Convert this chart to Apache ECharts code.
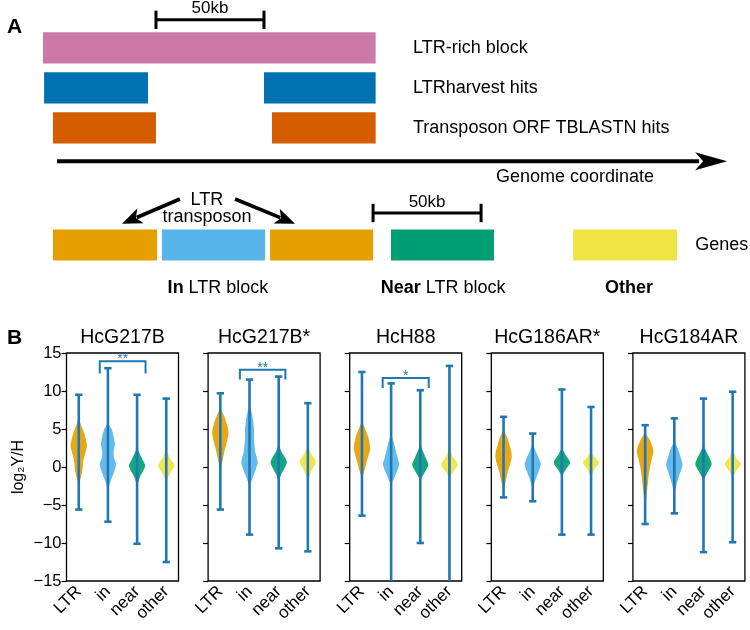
<!DOCTYPE html>
<html><head><meta charset="utf-8">
<script src="https://cdn.jsdelivr.net/npm/echarts@6/dist/echarts.min.js"></script>
<style>html,body{margin:0;padding:0;background:#fff}#c{width:750px;height:630px}</style>
</head><body><div id="c"></div>
<script>
// ================= Panel A data (x in kb, y in diagram rows) =================
const trackNames = ['LTR-rich block', 'LTRharvest hits', 'Transposon ORF TBLASTN hits'];
const trackRows = [1, 2, 3];
const trackColors = ['#CC79A7', '#0072B2', '#D55E00'];
const ltrBlock = [[0, 154]];
const ltrHarvestHits = [[0.5, 48.6], [102.3, 154]];
const tblastnHits = [[4.6, 52.3], [106, 154]];
const geneRow = 5.93;
const geneSegments = [[4.6, 52.8], [55.1, 102.8], [105.1, 152.8], [161.1, 208.8], [245.4, 293.5]];
const geneSegmentClass = [0, 1, 0, 2, 3];
const scaleBars = [[52.3, 102.3, 0.3], [152.8, 202.8, 5.13]];
const scaleBarLabel = '50kb';
const genomeArrow = [6.5, 3.835, 316.7, 3.835];
const transposonArrows = [[63.4, 4.78, 36.6, 5.4], [88.9, 4.78, 116.7, 5.4]];
const trackLabelX = 171.3;
const genomeLabel = ['Genome coordinate', 209.7, 4.23];
const genesLabel = ['Genes', 301.9, 5.93];
const transposonLabel = [['LTR', 75.9, 4.8], ['transposon', 75.9, 5.22]];
const regionLabels = ['{b|In}{n| LTR block}', '{b|Near}{n| LTR block}', '{b|Other}'];
const regionX = [81, 185.2, 271.3];
const regionRow = 7.0;

// ================= Panel B data =================
const panelNames = ['HcG217B', 'HcG217B*', 'HcH88', 'HcG186AR*', 'HcG184AR'];
const groups = ['LTR', 'in', 'near', 'other'];
const groupColors = ['#E69F00', '#56B4E9', '#009E73', '#F0E442'];
const yTicks = [-15, -10, -5, 0, 5, 10, 15];
// whisker extrema [min, max] per group
const ext_HcG217B   = [[-5.6, 9.5], [-7.2, 13.0], [-10.1, 9.5], [-12.5, 9.0]];
const ext_HcG217Bs  = [[-5.6, 9.7], [-8.9, 11.5], [-10.7, 11.9], [-11.1, 8.4]];
const ext_HcH88     = [[-6.4, 12.5], [-17, 11.0], [-10.0, 10.1], [-17, 13.3]];
const ext_HcG186ARs = [[-4.0, 6.6], [-4.5, 4.4], [-8.9, 10.2], [-8.9, 7.9]];
const ext_HcG184AR  = [[-7.5, 5.5], [-6.1, 6.4], [-11.2, 9.0], [-9.9, 9.9]];
// violin profiles: [value, relative density]
const vio_HcG217B = [
  [[6.4,0],[5.5,0.3],[4.5,0.65],[3.5,0.9],[2.8,1],[2,0.85],[1,0.6],[0,0.5],[-1,0.35],[-2.3,0]],
  [[5.8,0],[5,0.45],[4,0.7],[3,0.85],[2,0.7],[1.2,0.75],[0.4,1],[-0.5,0.8],[-1.5,0.45],[-2.3,0.2],[-3.3,0]],
  [[2.6,0],[1.8,0.3],[1,0.65],[0.2,1],[-0.5,0.75],[-1.3,0.35],[-2.4,0]],
  [[2.2,0],[1.2,0.45],[0.2,1],[-0.6,0.6],[-1.9,0]]
];
const vio_HcG217Bs = [
  [[7.8,0],[7,0.35],[6,0.7],[5,0.95],[4.4,1],[3.5,0.85],[2.5,0.6],[1.5,0.4],[0.5,0.2],[-0.6,0]],
  [[8.2,0],[7,0.3],[6,0.45],[5,0.55],[4,0.55],[3,0.6],[2,0.7],[1,0.95],[0.5,1],[-0.5,0.7],[-1.5,0.35],[-2.5,0]],
  [[3,0],[2,0.35],[1.2,0.8],[0.6,1],[-0.2,0.7],[-1,0.3],[-2,0]],
  [[2.8,0],[1.8,0.4],[0.7,1],[-0.3,0.55],[-1.7,0]]
];
const vio_HcH88 = [
  [[6,0],[5,0.4],[4,0.75],[3,0.95],[2.3,1],[1.5,0.8],[0.5,0.55],[-0.5,0.3],[-1.5,0]],
  [[4.3,0],[3,0.4],[2,0.6],[1,0.85],[0.4,1],[-0.5,0.75],[-1.5,0.35],[-2.3,0]],
  [[3,0],[2,0.35],[1,0.75],[0.3,1],[-0.6,0.6],[-1.7,0]],
  [[2.5,0],[1.3,0.45],[0.3,1],[-0.5,0.55],[-1.5,0]]
];
const vio_HcG186ARs = [
  [[4.8,0],[4,0.4],[3,0.7],[2,0.95],[1.3,1],[0.5,0.85],[-0.5,0.55],[-1.5,0.35],[-2.5,0.15],[-3.5,0]],
  [[3,0],[2,0.4],[1,0.8],[0.4,1],[-0.5,0.75],[-1.5,0.4],[-2.5,0.1],[-3,0]],
  [[2.5,0],[1.5,0.5],[0.6,1],[-0.3,0.5],[-1.2,0]],
  [[2.1,0],[1.3,0.45],[0.6,1],[-0.2,0.5],[-1.3,0]]
];
const vio_HcG184AR = [
  [[4.5,0],[3.5,0.6],[2.5,0.95],[1.8,1],[1,0.8],[0,0.6],[-1,0.45],[-2,0.35],[-3,0.25],[-4,0.15],[-5.2,0]],
  [[3.4,0],[2.5,0.4],[1.5,0.7],[0.3,1],[-0.8,0.7],[-2,0.35],[-3.5,0]],
  [[2.9,0],[1.8,0.45],[0.4,1],[-0.6,0.55],[-1.7,0]],
  [[2.2,0],[1.2,0.45],[0.4,1],[-0.4,0.5],[-1.3,0]]
];
// significance brackets [x1, x2, yTop, yBottom, text]
const sig_HcG217B = [1.72, 3.29, 13.9, 12.3, '**'];
const sig_HcG217Bs = [1.67, 3.23, 12.8, 11.5, '**'];
const sig_HcH88 = [1.71, 3.29, 11.7, 10.4, '*'];

const panelExt = [ext_HcG217B, ext_HcG217Bs, ext_HcH88, ext_HcG186ARs, ext_HcG184AR];
const panelVio = [vio_HcG217B, vio_HcG217Bs, vio_HcH88, vio_HcG186ARs, vio_HcG184AR];
const panelSig = [sig_HcG217B, sig_HcG217Bs, sig_HcH88, null, null];

// ================= Build chart =================
const FONT = '"Liberation Sans", Arial, Helvetica, sans-serif';
const LINE_BLUE = '#1f77b4';
const chart = echarts.init(document.getElementById('c'));

const grids = [{left: 43, top: 7.8, width: 707, height: 300, show: false}];
const xAxes = [{type: 'value', gridIndex: 0, min: 0, max: 327.3, show: false}];
const yAxes = [{type: 'value', gridIndex: 0, min: 0, max: 7.5, inverse: true, show: false}];
const series = [];
const titles = [
  {text: 'A', left: 7, top: 17, padding: 0, textStyle: {fontSize: 21, fontWeight: 'bold', color: '#000', fontFamily: FONT}},
  {text: 'B', left: 7, top: 328, padding: 0, textStyle: {fontSize: 21, fontWeight: 'bold', color: '#000', fontFamily: FONT}}
];

// --- Panel A rectangles
const rectData = [];
ltrBlock.forEach(s => rectData.push({value: [s[0], s[1], trackRows[0]], itemStyle: {color: trackColors[0]}}));
ltrHarvestHits.forEach(s => rectData.push({value: [s[0], s[1], trackRows[1]], itemStyle: {color: trackColors[1]}}));
tblastnHits.forEach(s => rectData.push({value: [s[0], s[1], trackRows[2]], itemStyle: {color: trackColors[2]}}));
geneSegments.forEach((s, i) => rectData.push({value: [s[0], s[1], geneRow], itemStyle: {color: groupColors[geneSegmentClass[i]]}}));
series.push({
  type: 'custom', xAxisIndex: 0, yAxisIndex: 0, silent: true, data: rectData,
  renderItem: (p, api) => {
    const a = api.coord([api.value(0), api.value(2) - 0.39]);
    const b = api.coord([api.value(1), api.value(2) + 0.39]);
    return {type: 'rect', shape: {x: a[0], y: Math.min(a[1], b[1]), width: b[0] - a[0], height: Math.abs(b[1] - a[1])},
      style: {fill: api.visual('color')}};
  }
});
// --- scale bars
series.push({
  type: 'custom', xAxisIndex: 0, yAxisIndex: 0, silent: true, data: scaleBars,
  renderItem: (p, api) => {
    const x0 = api.value(0), x1 = api.value(1), r = api.value(2);
    const a = api.coord([x0, r]), b = api.coord([x1, r]);
    const t0 = api.coord([x0, r - 0.23]), t1 = api.coord([x0, r + 0.23]);
    const st = {stroke: '#000', lineWidth: 3};
    return {type: 'group', children: [
      {type: 'line', shape: {x1: a[0], y1: a[1], x2: b[0], y2: b[1]}, style: st},
      {type: 'line', shape: {x1: a[0], y1: t0[1], x2: a[0], y2: t1[1]}, style: st},
      {type: 'line', shape: {x1: b[0], y1: t0[1], x2: b[0], y2: t1[1]}, style: st},
      {type: 'text', x: (a[0] + b[0]) / 2, y: a[1] - 11, style: {text: scaleBarLabel, fontSize: 17, fontFamily: FONT, fill: '#000', align: 'center', verticalAlign: 'middle'}}
    ]};
  }
});
// --- arrows
const arrowData = [genomeArrow.concat([32, 9, 4])].concat(transposonArrows.map(a => a.concat([20, 8, 3.6])));
series.push({
  type: 'custom', xAxisIndex: 0, yAxisIndex: 0, silent: true, data: arrowData,
  renderItem: (p, api) => {
    const s = api.coord([api.value(0), api.value(1)]);
    const e = api.coord([api.value(2), api.value(3)]);
    const hl = api.value(4), hw = api.value(5), lw = api.value(6);
    const dx = e[0] - s[0], dy = e[1] - s[1], L = Math.hypot(dx, dy);
    const ux = dx / L, uy = dy / L, nx = -uy, ny = ux;
    const bx = e[0] - ux * hl, by = e[1] - uy * hl;
    return {type: 'group', children: [
      {type: 'line', shape: {x1: s[0], y1: s[1], x2: bx + ux * 4, y2: by + uy * 4}, style: {stroke: '#000', lineWidth: lw}},
      {type: 'polygon', shape: {points: [[e[0], e[1]], [bx + nx * hw, by + ny * hw], [bx + ux * hl * 0.25, by + uy * hl * 0.25], [bx - nx * hw, by - ny * hw]]}, style: {fill: '#000'}}
    ]};
  }
});
// --- panel A labels
const labelData = [];
trackNames.forEach((t, i) => labelData.push([trackLabelX, trackRows[i], t, 'left']));
labelData.push([genomeLabel[1], genomeLabel[2], genomeLabel[0], 'left']);
labelData.push([genesLabel[1], genesLabel[2], genesLabel[0], 'left']);
transposonLabel.forEach(l => labelData.push([l[1], l[2], l[0], 'center']));
regionLabels.forEach((t, i) => labelData.push([regionX[i], regionRow, t, 'center']));
series.push({
  type: 'custom', xAxisIndex: 0, yAxisIndex: 0, silent: true, data: labelData,
  renderItem: (p, api) => {
    const item = labelData[p.dataIndex];
    const c = api.coord([item[0], item[1]]);
    return {type: 'text', x: c[0], y: c[1], style: {
      text: item[2], fontSize: 18, fontFamily: FONT, fill: '#000', align: item[3], verticalAlign: 'middle',
      rich: {b: {fontSize: 18, fontFamily: FONT, fontWeight: 'bold', fill: '#000'}, n: {fontSize: 18, fontFamily: FONT, fill: '#000'}}
    }};
  }
});

// --- Panel B
const minus = v => (v < 0 ? '\u2212' : '') + Math.abs(v);
panelNames.forEach((name, pi) => {
  const gi = pi + 1;
  const left = 66.5 + 141.6 * pi, width = 112;
  grids.push({left: left, top: 353, width: width, height: 228, show: true, borderColor: '#000', borderWidth: 1.3, backgroundColor: 'transparent'});
  xAxes.push({
    type: 'value', gridIndex: gi, min: 0.58, max: 4.42,
    axisLine: {show: false}, splitLine: {show: false},
    axisTick: {show: true, customValues: [1, 2, 3, 4], length: 5, lineStyle: {color: '#000', width: 1.2}},
    axisLabel: {show: true, customValues: [1, 2, 3, 4], rotate: 45, margin: 8, fontSize: 17, fontFamily: FONT, color: '#000',
      formatter: v => groups[Math.round(v) - 1] || ''}
  });
  yAxes.push({
    type: 'value', gridIndex: gi, min: yTicks[0], max: yTicks[yTicks.length - 1], interval: 5,
    axisLine: {show: false}, splitLine: {show: false},
    axisTick: {show: true, length: 5, lineStyle: {color: '#000', width: 1.2}},
    axisLabel: {show: pi === 0, fontSize: 16.5, fontFamily: FONT, color: '#000', margin: 5, formatter: minus},
    name: pi === 0 ? 'log\u2082Y/H' : '', nameLocation: 'middle', nameRotate: 90, nameGap: 40,
    nameTextStyle: {fontSize: 16, fontFamily: FONT, color: '#000'}
  });
  titles.push({text: name, left: left + width / 2, top: 328, textAlign: 'center', padding: 0,
    textStyle: {fontSize: 19.5, fontWeight: 'normal', color: '#000', fontFamily: FONT}});

  const vio = panelVio[pi], ext = panelExt[pi];
  // violins
  series.push({
    type: 'custom', xAxisIndex: gi, yAxisIndex: gi, silent: true, clip: true,
    data: groups.map((g, k) => ({value: [k + 1, k], itemStyle: {color: groupColors[k]}})),
    renderItem: (p, api) => {
      const x = api.value(0), prof = vio[api.value(1)];
      const right = prof.map(d => api.coord([x + 0.28 * d[1], d[0]]));
      const leftSide = prof.slice().reverse().map(d => api.coord([x - 0.28 * d[1], d[0]]));
      return {type: 'polygon', shape: {points: right.concat(leftSide), smooth: 0.25},
        style: {fill: api.visual('color'), opacity: 0.92}};
    }
  });
  // whiskers
  series.push({
    type: 'custom', xAxisIndex: gi, yAxisIndex: gi, silent: true, clip: true,
    data: ext.map((e, k) => [k + 1, e[0], e[1]]),
    renderItem: (p, api) => {
      const x = api.value(0), lo = api.value(1), hi = api.value(2);
      const a = api.coord([x, lo]), b = api.coord([x, hi]);
      const cl = api.coord([x - 0.125, lo]), cr = api.coord([x + 0.125, lo]);
      const st = {stroke: LINE_BLUE, lineWidth: 2.6};
      return {type: 'group', children: [
        {type: 'line', shape: {x1: a[0], y1: a[1], x2: b[0], y2: b[1]}, style: st},
        {type: 'line', shape: {x1: cl[0], y1: a[1], x2: cr[0], y2: a[1]}, style: st},
        {type: 'line', shape: {x1: cl[0], y1: b[1], x2: cr[0], y2: b[1]}, style: st}
      ]};
    }
  });
  // significance bracket
  const sig = panelSig[pi];
  if (sig) {
    series.push({
      type: 'custom', xAxisIndex: gi, yAxisIndex: gi, silent: true,
      data: [sig.slice(0, 4)],
      renderItem: (p, api) => {
        const p1 = api.coord([api.value(0), api.value(3)]);
        const p2 = api.coord([api.value(0), api.value(2)]);
        const p3 = api.coord([api.value(1), api.value(2)]);
        const p4 = api.coord([api.value(1), api.value(3)]);
        return {type: 'group', children: [
          {type: 'polyline', shape: {points: [p1, p2, p3, p4]}, style: {stroke: LINE_BLUE, lineWidth: 2, fill: null}},
          {type: 'text', x: (p2[0] + p3[0]) / 2, y: p2[1] - 9, style: {text: sig[4], fontSize: 14, fontFamily: FONT, fill: LINE_BLUE, align: 'center', verticalAlign: 'top'}}
        ]};
      }
    });
  }
});

chart.setOption({
  animation: false,
  backgroundColor: '#fff',
  title: titles,
  grid: grids,
  xAxis: xAxes,
  yAxis: yAxes,
  series: series
});
</script></body></html>
